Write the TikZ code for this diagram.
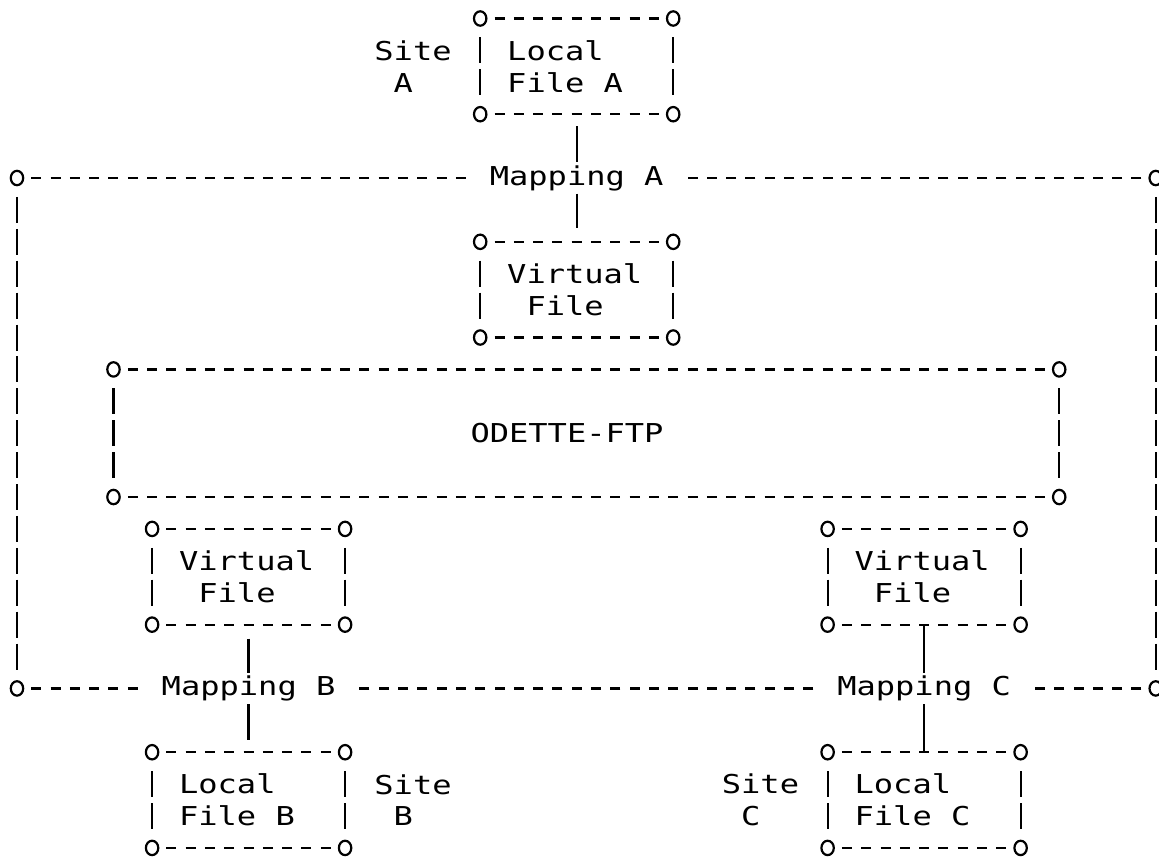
\documentclass[tikz,border=0pt]{standalone}
\usepackage{fontspec}
\usetikzlibrary{shapes.geometric}
\newfontfamily\asciifont{DejaVu Sans Mono}[FakeStretch=1.233]
\newlength{\cellw}
\setlength{\cellw}{9.65pt}
\newcommand{\blank}{\hspace*{\cellw}}
\newcommand{\asciiframe}[1]{%
  \draw[hline] (#1.north west) -- (#1.north east);
  \draw[hline] (#1.south west) -- (#1.south east);
  \draw[bar] (#1.north west) -- (#1.south west);
  \draw[bar] (#1.north east) -- (#1.south east);
  \foreach \c in {north west,north east,south west,south east}
    \node[corner] at (#1.\c) {};
}

\begin{document}
\begin{tikzpicture}[x=9.65pt,y=15.95pt,
  every node/.style={font=\asciifont\fontsize{13}{15.95}\selectfont},
  hline/.style={line width=1.1pt,dash pattern=on 5pt off 4.65pt,dash phase=2.5pt},
  vline/.style={line width=1.1pt},
  bar/.style={line width=1.1pt,dash pattern=on 13pt off 2.95pt,dash phase=14.475pt,shorten <=7.975pt,shorten >=7.975pt},
  corner/.style={ellipse,draw,fill=white,line width=1.1pt,inner sep=0pt,minimum width=6.2pt,minimum height=7.2pt},
  filebox/.style={minimum width=96.5pt,minimum height=47.85pt,inner xsep=13.5pt,inner ysep=0pt,text width=69.5pt,align=left,outer sep=0pt},
  odettebox/.style={minimum width=472.85pt,minimum height=63.8pt,inner sep=0pt,outer sep=0pt},
  mapnode/.style={minimum width=106.15pt,inner xsep=0pt,inner ysep=1.5pt,outer sep=0pt},
  sitelabel/.style={align=left,inner sep=0pt,anchor=west}]
  \useasboundingbox (-0.88,0.58) rectangle (59.17,-26.44);

  \node[filebox] (loca) at (29,-1.5) {Local\\File\blank A};
  \node[sitelabel] (sitea) at (18.5,-1.5) {Site\\\blank A};
  \node[mapnode] (mapa) at (29,-5) {Mapping A};
  \node[filebox] (vfa) at (29,-8.5) {Virtual\\\blank File};
  \node[odettebox] (odette) at (29.5,-13) {ODETTE-FTP\kern19.3pt};
  \node[filebox] (vfb) at (12,-17.5) {Virtual\\\blank File};
  \node[filebox] (vfc) at (47,-17.5) {Virtual\\\blank File};
  \node[mapnode] (mapb) at (12,-21) {Mapping B};
  \node[mapnode] (mapc) at (47,-21) {Mapping C};
  \node[filebox] (locb) at (12,-24.5) {Local\\File\blank B};
  \node[sitelabel] (siteb) at (18.5,-24.5) {Site\\\blank B};
  \node[filebox] (locc) at (47,-24.5) {Local\\File\blank C};
  \node[sitelabel] (sitec) at (36.5,-24.5) {Site\\\blank C};

  \coordinate (tl) at (0,-5);
  \coordinate (tr) at (59,-5);
  \coordinate (bl) at (0,-21);
  \coordinate (br) at (59,-21);
  \draw[hline] (tl) -- (mapa);
  \draw[hline] (tr) -- (mapa);
  \draw[hline] (bl) -- (mapb);
  \draw[hline] (br) -- (mapc);
  \draw[hline,dash phase=7.325pt] (mapc) -- (mapb);
  \draw[bar] (tl) -- (bl);
  \draw[bar] (tr) -- (br);

  \draw[vline,shorten <=6pt] (loca) -- (mapa);
  \draw[vline,shorten >=7pt] (mapa) -- (vfa);
  \draw[vline,shorten <=7pt] (vfb) -- (mapb);
  \draw[vline,shorten >=6pt] (mapb) -- (locb);
  \draw[vline] (vfc) -- (mapc);
  \draw[vline] (mapc) -- (locc);

  \foreach \b in {loca,vfa,odette,vfb,vfc,locb,locc} {\asciiframe{\b}}
  \foreach \p in {tl,tr,bl,br}
    \node[corner] at (\p) {};
\end{tikzpicture}
\end{document}
